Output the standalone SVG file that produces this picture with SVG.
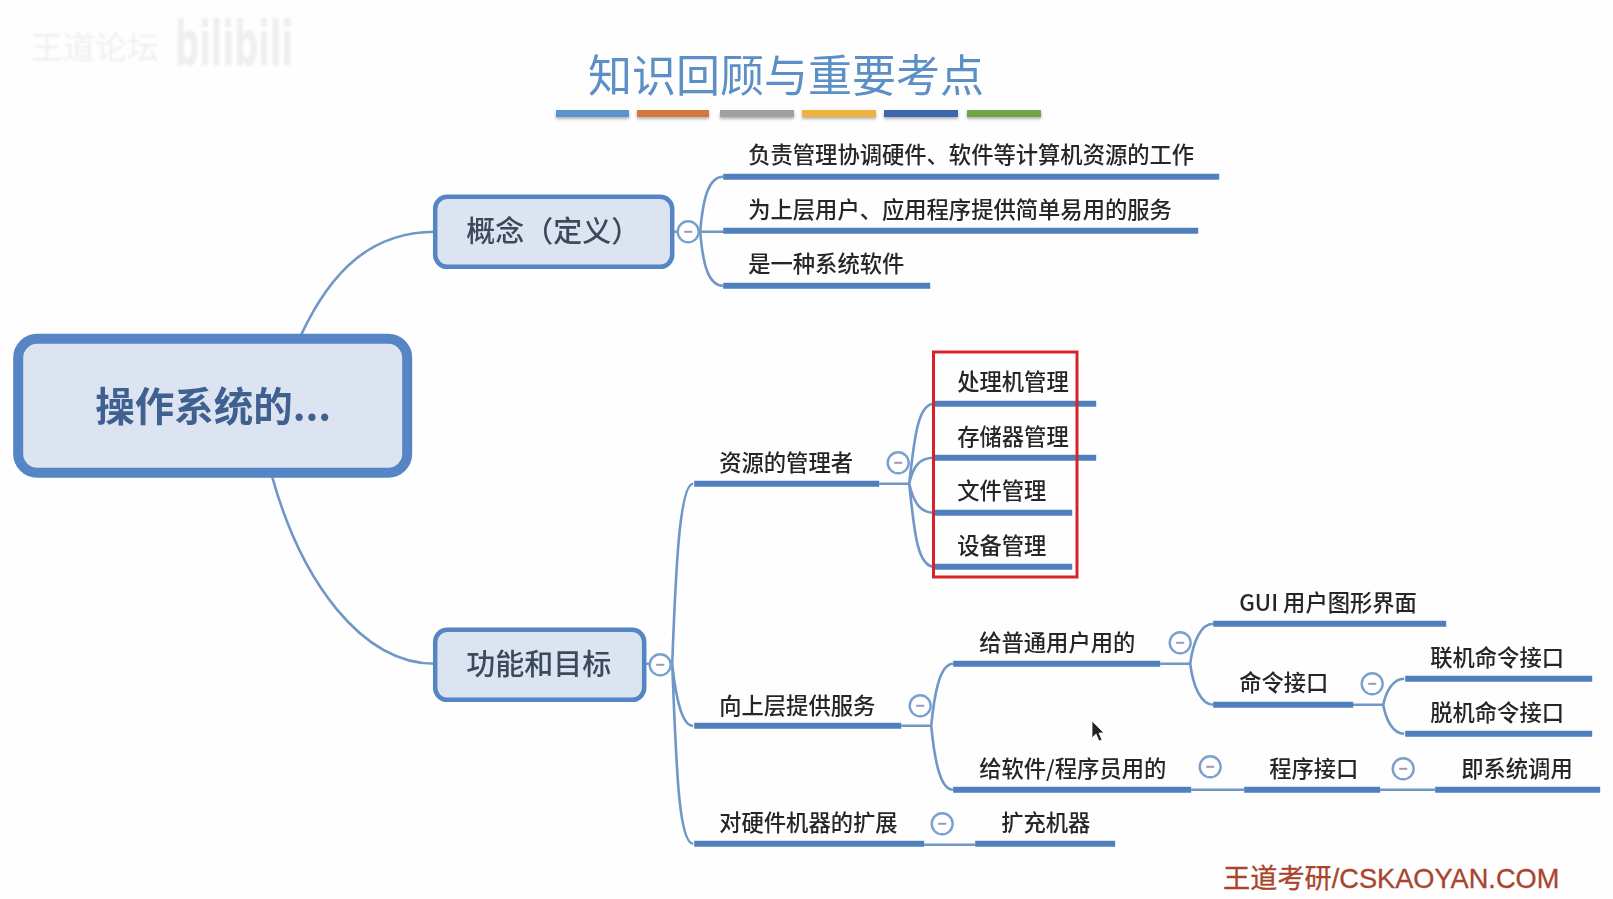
<svg xmlns="http://www.w3.org/2000/svg" width="1613" height="899" viewBox="0 0 1613 899">
<style>
text{font-family:"Noto Sans CJK SC","Liberation Sans",sans-serif}
.t{font-size:22.3px;fill:#262626;font-weight:500}
.u{stroke:#4f7fbd;stroke-width:6;fill:none}
.c{stroke:#6f97c8;stroke-width:2.6;fill:none}
.box{fill:#dde4f1;stroke:#5585c2;stroke-width:4.5}
.m{fill:#fff;stroke:#7ba0cd;stroke-width:2.4}
.d{stroke:#9a9ab8;stroke-width:2}
.h{font-size:29px;fill:#3b4a5c;font-weight:500}
.bar{filter:url(#s)}
</style>
<defs>
<filter id="s" x="-10%" y="-50%" width="120%" height="250%"><feDropShadow dx="0" dy="2" stdDeviation="1.5" flood-color="#000" flood-opacity=".3"/></filter>
<filter id="soft" x="0" y="0" width="1613" height="899" filterUnits="userSpaceOnUse"><feGaussianBlur stdDeviation=".45"/></filter>
<filter id="wm" x="-5%" y="-20%" width="110%" height="140%"><feGaussianBlur stdDeviation="1"/></filter>
<g id="minus"><circle r="10.5" class="m"/><path d="M-4 0H4" class="d"/></g>
</defs>
<rect width="1613" height="899" fill="#fefefe"/>
<g id="watermark" fill="#efefef" filter="url(#wm)">
<text x="31" y="59" font-size="32">王道论坛</text>
<text x="175" y="65" font-size="62" font-weight="700" textLength="118" lengthAdjust="spacingAndGlyphs" style="font-family:'DejaVu Sans',sans-serif">bilibili</text>
</g>
<g id="title" filter="url(#soft)">
<text x="588" y="92" font-size="44" fill="#5b8fc6">知识回顾与重要考点</text>
<rect class="bar" x="556" y="110" width="73" height="7" fill="#5b93cf"/>
<rect class="bar" x="637" y="110" width="72" height="7" fill="#d9763c"/>
<rect class="bar" x="720" y="110" width="74" height="7" fill="#a0a0a0"/>
<rect class="bar" x="802" y="110" width="74" height="7" fill="#f0b23c"/>
<rect class="bar" x="884" y="110" width="74" height="7" fill="#3d66ae"/>
<rect class="bar" x="967" y="110" width="74" height="7" fill="#6fa545"/>
</g>
<g id="map" transform="translate(1.2 .8)" filter="url(#soft)">
<g id="connectors">
<path class="c" d="M300 334C330 270 370 231 434 231"/>
<path class="c" d="M271 476C300 580 360 663 434 663"/>
<path class="c" d="M673 231H722M722 176C708 176 702 195 699 231C702 267 708 285 722 285"/>
<path class="c" d="M645 663H671M692 483C677 483 674 590 671 663C675 700 681 725 692 725M671 663C675 760 677 843 692 843"/>
<path class="c" d="M878 483H908M933 403C916 403 913 440 908 483C913 530 916 566 933 566M908 483C912 465 918 457 933 457M908 483C912 500 918 512 933 512"/>
<path class="c" d="M900 725H930M952 663C938 663 933 695 930 725C933 755 938 789 952 789"/>
<path class="c" d="M1159 663H1189M1212 623C1200 623 1192 640 1189 663C1192 686 1200 704 1212 704"/>
<path class="c" d="M1351 704H1382M1403 678C1392 678 1385 690 1382 704C1385 720 1392 733 1403 733"/>
<path class="c" d="M1190 789H1243M1379 789H1434M923 844H974"/>
</g>
<g id="node-root"><rect x="17" y="338" width="389" height="134" rx="19" fill="#dde4f1" stroke="#5585c4" stroke-width="10"/><text x="94" y="420" font-size="39.5" font-weight="700" fill="#3f6190">操作系统的...</text></g>
<g id="node-concept"><rect class="box" x="434" y="196" width="237" height="70" rx="12"/><text class="h" x="465" y="241">概念（定义）</text><use href="#minus" x="687" y="231"/></g>
<g id="node-goal"><rect class="box" x="434" y="629" width="209" height="70" rx="12"/><text class="h" x="465" y="674">功能和目标</text><use href="#minus" x="659" y="664"/></g>
<g id="n1"><text class="t" x="747" y="162">负责管理协调硬件、软件等计算机资源的工作</text><path class="u" d="M722 176H1218"/></g>
<g id="n2"><text class="t" x="747" y="217">为上层用户、应用程序提供简单易用的服务</text><path class="u" d="M722 230H1197"/></g>
<g id="n3"><text class="t" x="747" y="271">是一种系统软件</text><path class="u" d="M722 285H929"/></g>
<g id="n4"><text class="t" x="718" y="470">资源的管理者</text><path class="u" d="M693 483H878"/><use href="#minus" x="897" y="462"/></g>
<g id="n5"><text class="t" x="956" y="389">处理机管理</text><path class="u" d="M933 403H1095"/></g>
<g id="n6"><text class="t" x="956" y="444">存储器管理</text><path class="u" d="M933 457H1095"/></g>
<g id="n7"><text class="t" x="956" y="498">文件管理</text><path class="u" d="M933 512H1071"/></g>
<g id="n8"><text class="t" x="956" y="553">设备管理</text><path class="u" d="M933 566H1071"/></g>
<g id="n9"><text class="t" x="718" y="713">向上层提供服务</text><path class="u" d="M693 725H900"/><use href="#minus" x="919" y="705"/></g>
<g id="n10"><text class="t" x="978" y="650">给普通用户用的</text><path class="u" d="M952 663H1159"/><use href="#minus" x="1179" y="642"/></g>
<g id="n11"><text class="t" x="1238" y="610">GUI 用户图形界面</text><path class="u" d="M1212 623H1445"/></g>
<g id="n12"><text class="t" x="1238" y="690">命令接口</text><path class="u" d="M1212 704H1352"/><use href="#minus" x="1371" y="683"/></g>
<g id="n13"><text class="t" x="1429" y="665">联机命令接口</text><path class="u" d="M1404 678H1591"/></g>
<g id="n14"><text class="t" x="1429" y="720">脱机命令接口</text><path class="u" d="M1404 733H1591"/></g>
<g id="n15"><text class="t" x="978" y="776">给软件/程序员用的</text><path class="u" d="M952 789H1190"/><use href="#minus" x="1209" y="766"/></g>
<g id="n16"><text class="t" x="1268" y="776">程序接口</text><path class="u" d="M1243 789H1379"/><use href="#minus" x="1402" y="768"/></g>
<g id="n17"><text class="t" x="1460" y="776">即系统调用</text><path class="u" d="M1434 789H1599"/></g>
<g id="n18"><text class="t" x="718" y="830">对硬件机器的扩展</text><path class="u" d="M693 843H923"/><use href="#minus" x="941" y="823"/></g>
<g id="n19"><text class="t" x="1000" y="830">扩充机器</text><path class="u" d="M974 843H1114"/></g>
</g>
<rect id="highlight" x="933.5" y="352" width="143.5" height="225" fill="none" stroke="#d8232a" stroke-width="3"/>
<path id="cursor" d="M1092 721V738L1096 734L1099 741L1102 740L1099 733L1104 733Z" fill="#222" stroke="#fff" stroke-width=".8"/>
<text id="footer" x="1223" y="888" font-size="27.2" fill="#a9452c" stroke="#a9452c" stroke-width=".3" style="font-family:'Liberation Sans','Noto Sans CJK SC',sans-serif">王道考研/CSKAOYAN.COM</text>
</svg>
